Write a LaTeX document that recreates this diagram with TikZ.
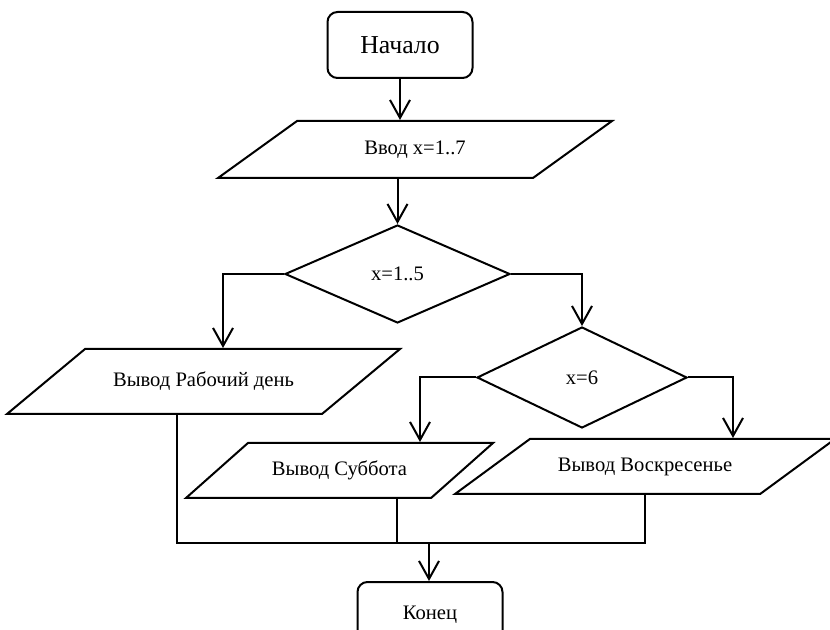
\documentclass[tikz,border=0pt]{standalone}
\usepackage{fontspec}
\setmainfont{Liberation Serif}
\usetikzlibrary{arrows.meta,positioning,calc,shapes.geometric}
\tikzset{
    >={Straight Barb[length=9pt,width=10pt]},
    every picture/.style={line width=1pt},
    block/.style={rectangle,rounded corners=5pt,draw,minimum width=72.5pt,minimum height=33pt,inner sep=0pt},
    iobox/.style={trapezium,trapezium left angle=#1,trapezium right angle=180-#1,trapezium stretches body,
        draw,inner xsep=0pt,text height=7pt,text depth=2pt},
    decision/.style={diamond,draw,inner sep=0pt}
}

\begin{document}
\begin{tikzpicture}[x=0.5pt,y=-0.5pt,
        every node/.style={font=\fontsize{10.3}{12}\selectfont},
        flow/.style={->,line width=1pt},
        joinline/.style={line width=0.6pt}]
        \useasboundingbox (0,0) rectangle (830,630);

        % Blocks
        \node[block,font=\fontsize{12.9}{15}\selectfont] (start) at (400,45) {Начало};
        \node[iobox=35.8,minimum width=197pt,inner ysep=9.75pt] (in) at (415,149.5) {Ввод x=1..7};
        \node[decision,minimum width=112.5pt,minimum height=49pt] (dec1) at (397.5,274) {x=1..5};
        \node[iobox=39.8,minimum width=196.5pt,inner ysep=11.75pt] (work) at (203.5,381.5) {Вывод Рабочий день};
        \node[decision,minimum width=105pt,minimum height=50.5pt] (dec2) at (582,377.5) {x=6};
        \node[iobox=41.6,minimum width=153.5pt,inner ysep=9.25pt] (sat) at (339.5,470.5) {Вывод Суббота};
        \node[iobox=36.3,minimum width=190pt,inner ysep=9.25pt] (sun) at (645,466.5) {Вывод Воскресенье};
        \node[block] (stop) at (430,615) {Конец};

        % Arrows
        \draw[flow] (start.south) -- (start.south |- in.north);
        \draw[flow] (dec1.north |- in.south) -- (dec1.north);
        \draw[flow] (dec1.west) -| ([xshift=9.75pt]work.north);
        \draw[flow] (dec1.east) -| (dec2.north);
        \draw[flow] (dec2.west) -| ([xshift=40.25pt]sat.north);
        \draw[flow] (dec2.east) -| ([xshift=44pt]sun.north);

        % Merge
        \coordinate (merge) at (429,543);
        \coordinate (w1) at ([xshift=-13.25pt]work.south);
        \coordinate (s1) at ([xshift=28.75pt]sat.south);
        \draw[joinline] (w1) |- (merge);
        \draw[joinline] (sun.south) |- (merge);
        \draw[joinline] (s1) -- (s1 |- merge);
        \draw[flow] (merge) -- (merge |- stop.north);
\end{tikzpicture}
\end{document}
